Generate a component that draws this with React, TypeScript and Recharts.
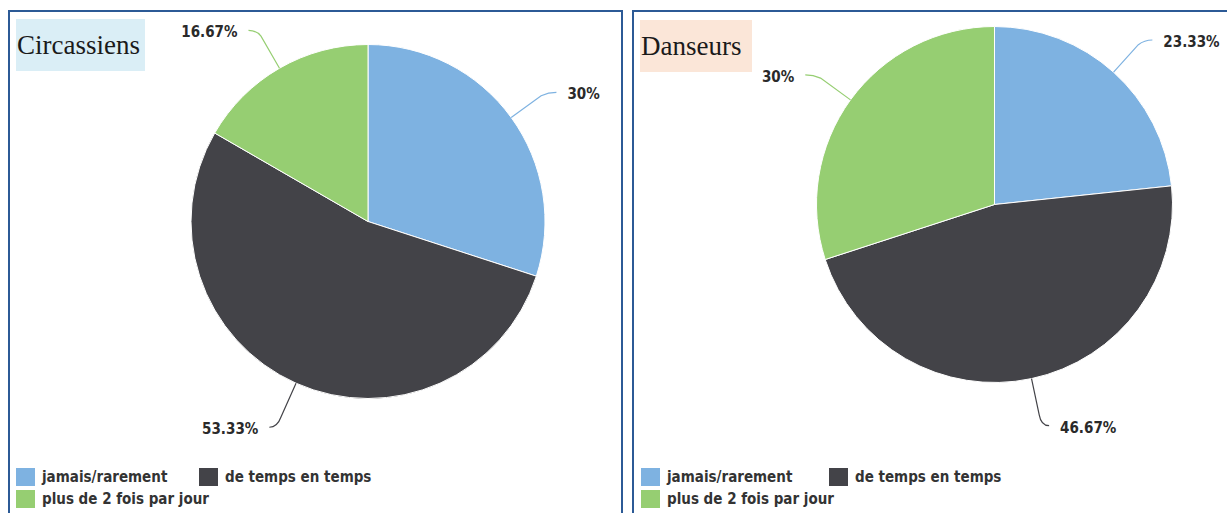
import React from 'react';
import { PieChart, Pie, Cell } from 'recharts';

const CATEGORIES = ['jamais/rarement', 'de temps en temps', 'plus de 2 fois par jour'];
const CIRCASSIENS = [30, 53.33, 16.67];
const DANSEURS = [23.33, 46.67, 30];

const COLORS = ['#7eb2e1', '#434348', '#96ce72'];
const RADIAN = Math.PI / 180;
const LABEL_FONT = "'DejaVu Sans Condensed', 'DejaVu Sans', sans-serif";

const renderLabel = (props: any) => {
  const { cx, cy, midAngle, outerRadius, value, index } = props;
  const cos = Math.cos(-midAngle * RADIAN);
  const sin = Math.sin(-midAngle * RADIAN);
  const side = cos >= 0 ? 1 : -1;
  const sx = cx + outerRadius * cos;
  const sy = cy + outerRadius * sin;
  const mx = cx + (outerRadius + 46) * cos;
  const my = cy + (outerRadius + 46) * sin + 2;
  const bx = cx + (outerRadius + 37) * cos;
  const by = cy + (outerRadius + 37) * sin;
  const ex = mx + side * 8;
  const color = COLORS[index % COLORS.length];
  return (
    <g>
      <path
        d={`M${sx},${sy} L${bx},${by} Q${mx},${my} ${ex},${my}`}
        stroke={color}
        strokeWidth={1.2}
        fill="none"
      />
      <text
        x={mx + side * 19}
        y={my + 2}
        textAnchor={side > 0 ? 'start' : 'end'}
        dominantBaseline="central"
        fill="#2a2a2a"
        fontSize={15}
        fontWeight="bold"
        style={{ fontFamily: LABEL_FONT, fontStretch: 'condensed' }}
      >
        {`${value}%`}
      </text>
    </g>
  );
};

interface PanelProps {
  title: string;
  titleBg: string;
  titleWidth: number;
  titleTop: number;
  values: number[];
  left: number;
  width: number;
  cx: number;
  cy: number;
  radius: number;
  legendX: number;
  legendX2: number;
}

const Panel: React.FC<PanelProps> = ({ title, titleBg, titleWidth, titleTop, values, left, width, cx, cy, radius, legendX, legendX2 }) => {
  const data = CATEGORIES.map((name, i) => ({ name, value: values[i] }));
  const legendItems = [
    { name: CATEGORIES[0], color: COLORS[0], x: legendX, y: 456 },
    { name: CATEGORIES[1], color: COLORS[1], x: legendX2, y: 456 },
    { name: CATEGORIES[2], color: COLORS[2], x: legendX, y: 478 },
  ];
  return (
    <div
      style={{
        position: 'absolute',
        left,
        top: 10,
        width,
        height: 540,
        border: '2px solid #2c5a96',
        boxSizing: 'border-box',
        background: '#fff',
      }}
    >
      <div
        style={{
          position: 'absolute',
          left: 6,
          top: titleTop,
          width: titleWidth,
          height: 52,
          background: titleBg,
          fontFamily: "'Liberation Serif', 'DejaVu Serif', serif",
          fontSize: 27,
          lineHeight: '52px',
          paddingLeft: 1,
          color: '#1a1a1a',
          boxSizing: 'border-box',
          zIndex: 2,
        }}
      >
        {title}
      </div>
      <div style={{ position: 'absolute', left: 0, top: 0 }}>
        <PieChart width={610} height={450} margin={{ top: 0, right: 0, bottom: 0, left: 0 }}>
          <Pie
            data={data}
            dataKey="value"
            nameKey="name"
            cx={cx}
            cy={cy}
            outerRadius={radius}
            startAngle={90}
            endAngle={-270}
            stroke="#ffffff"
            strokeWidth={1}
            label={renderLabel}
            labelLine={false}
            isAnimationActive={false}
          >
            {data.map((_, idx) => (
              <Cell key={`cell-${idx}`} fill={COLORS[idx % COLORS.length]} />
            ))}
          </Pie>
        </PieChart>
      </div>
      {legendItems.map((item) => (
        <div
          key={item.name}
          style={{
            position: 'absolute',
            left: item.x,
            top: item.y,
            height: 18,
            display: 'flex',
            alignItems: 'center',
            whiteSpace: 'nowrap',
          }}
        >
          <span style={{ display: 'inline-block', width: 19, height: 18, background: item.color, marginRight: 7 }} />
          <span
            style={{
              fontFamily: LABEL_FONT,
              fontStretch: 'condensed',
              fontWeight: 'bold',
              fontSize: 15,
              color: '#333',
            }}
          >
            {item.name}
          </span>
        </div>
      ))}
    </div>
  );
};

export default function App() {
  return (
    <div
      style={{
        position: 'fixed',
        left: 0,
        top: 0,
        width: 1227,
        height: 513,
        overflow: 'hidden',
        background: '#fff',
      }}
    >
      <Panel
        title="Circassiens"
        titleBg="#daeef6"
        titleWidth={129}
        titleTop={7}
        values={CIRCASSIENS}
        left={8}
        width={615}
        cx={358}
        cy={209.5}
        radius={177}
        legendX={6}
        legendX2={189}
      />
      <Panel
        title="Danseurs"
        titleBg="#fbe6d8"
        titleWidth={112}
        titleTop={8}
        values={DANSEURS}
        left={632}
        width={700}
        cx={360.5}
        cy={192.5}
        radius={178}
        legendX={7}
        legendX2={195}
      />
    </div>
  );
}
